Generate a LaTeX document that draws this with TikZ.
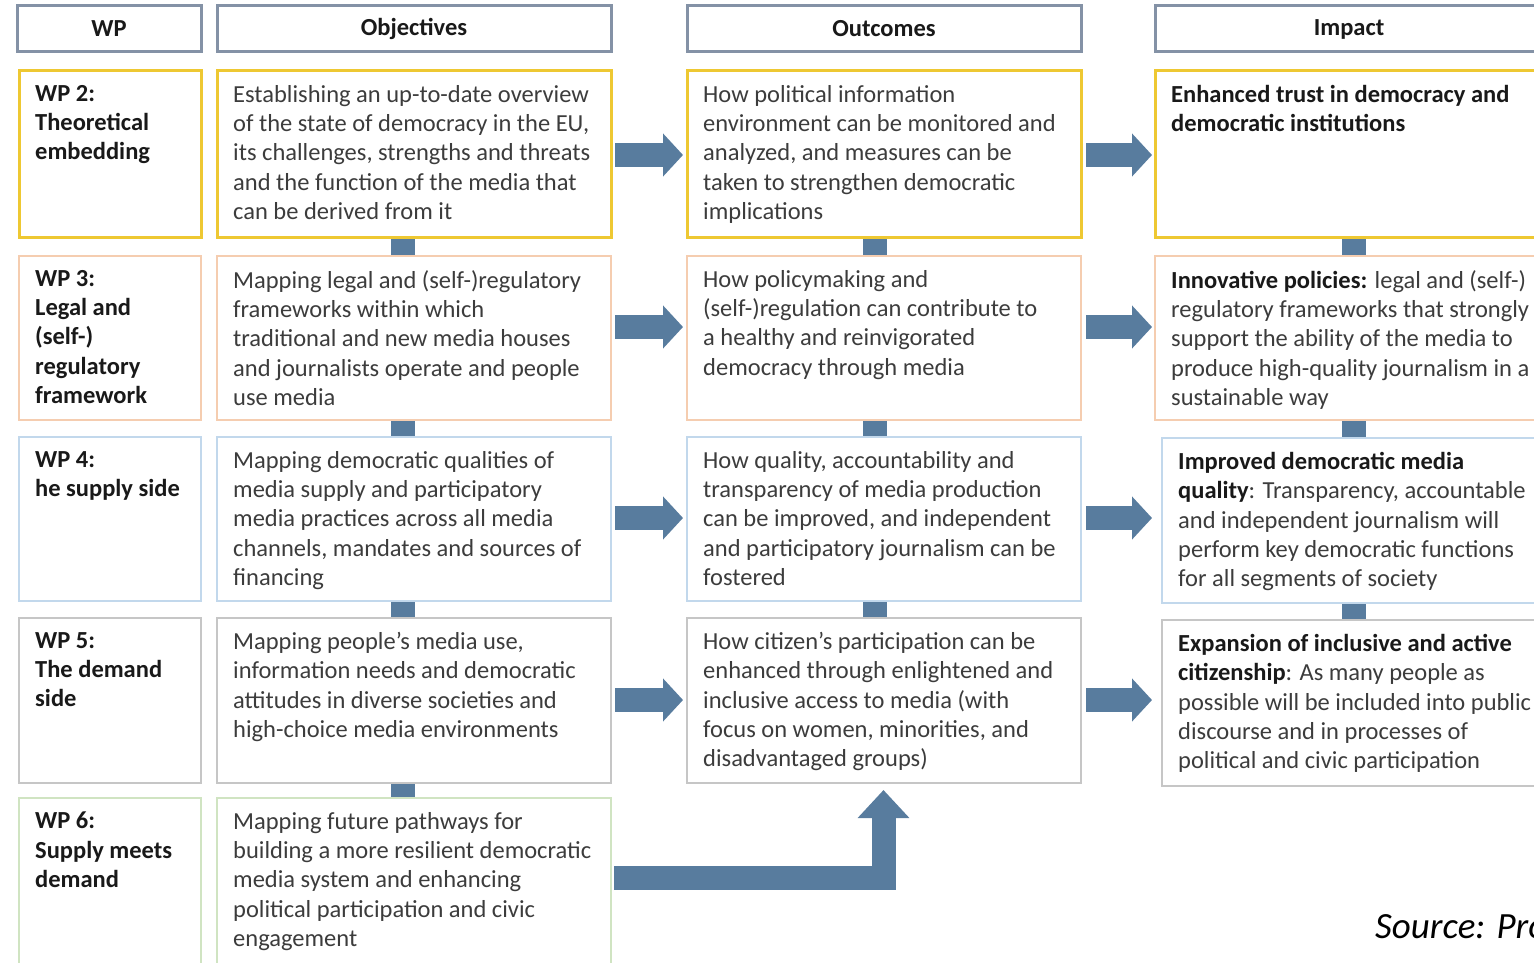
\documentclass[tikz,border=0pt]{standalone}
\usepackage{fontspec}
\setmainfont{Carlito}
\usetikzlibrary{arrows.meta,backgrounds}
\definecolor{hdrc}{RGB}{132,146,166}
\definecolor{yelc}{RGB}{238,200,50}
\definecolor{peac}{RGB}{245,205,176}
\definecolor{bluc}{RGB}{194,216,236}
\definecolor{grec}{RGB}{198,198,198}
\definecolor{grnc}{RGB}{208,228,194}
\definecolor{arrc}{RGB}{88,124,158}
\definecolor{txtc}{RGB}{60,60,60}
\definecolor{boldc}{RGB}{25,25,25}
\newcommand{\mkcell}[7]{%
  \node[box,#6,minimum width=#4-#2,minimum height=#5-#3] (#1) at (#2,#3) {};
  \node[txt] (#1t) at ([xshift=16pt,yshift=-14pt]#1.north west) {#7};
}
\newcommand{\bt}[1]{\textbf{\color{boldc}#1}}
\begin{document}
\begin{tikzpicture}[x=1pt,y=-1pt,
  box/.style={draw,fill=white,anchor=north west,inner sep=0pt,outer sep=0pt,line width=2.6pt},
  hdr/.style={box,draw=hdrc,line width=3pt,font=\fontsize{24.5}{28}\selectfont\bfseries,text=boldc},
  yb/.style={draw=yelc,line width=3pt},
  pb/.style={draw=peac},
  bb/.style={draw=bluc},
  gb/.style={draw=grec},
  nb/.style={draw=grnc},
  txt/.style={anchor=north west,align=left,inner sep=0pt,font=\fontsize{24.5}{29.3}\selectfont,text=txtc},
  conn/.style={fill=arrc},
  arr/.style={draw=arrc,line width=24pt,-{Triangle[length=20pt,width=42pt]}},
]
\useasboundingbox (0,0) rectangle (1534,963);
\clip (0,0) rectangle (1534,963);
% header
\node[hdr,minimum width=184,minimum height=46] (hw) at (17,6) {WP};
\node[hdr,minimum width=394,minimum height=46] (ho) at (217,6) {Objectives};
\node[hdr,minimum width=394,minimum height=46] (hu) at (687,6) {Outcomes};
\node[hdr,minimum width=390,minimum height=46] (hm) at (1155,6) {\hspace*{-2pt}Impact};
% row 1
\mkcell{w1}{19}{71}{201}{237}{yb}{\bt{WP 2:}\\\bt{Theoretical}\\\bt{embedding}}
\mkcell{o1}{217}{71}{611}{237}{yb}{Establishing an up-to-date overview\\of the state of democracy in the EU,\\its challenges, strengths and threats\\and the function of the media that\\can be derived from it}
\mkcell{u1}{687}{71}{1081}{237}{yb}{How political information\\environment can be monitored and\\analyzed, and measures can be\\taken to strengthen democratic\\implications}
\mkcell{m1}{1155}{71}{1545}{237}{yb}{\bt{Enhanced trust in democracy and}\\\bt{democratic institutions}}
% row 2
\mkcell{w2}{19}{256}{201}{420}{pb}{\bt{WP 3:}\\\bt{Legal and}\\\bt{(self-)}\\\bt{regulatory}\\\bt{framework}}
\mkcell{o2}{217}{256}{611}{420}{pb}{Mapping legal and (self-)regulatory\\frameworks within which\\traditional and new media houses\\and journalists operate and people\\use media}
\mkcell{u2}{687}{256}{1081}{420}{pb}{How policymaking and\\(self-)regulation can contribute to\\a healthy and reinvigorated\\democracy through media}
\mkcell{m2}{1155}{256}{1545}{420}{pb}{\bt{Innovative policies:} legal and (self-)\\regulatory frameworks that strongly\\support the ability of the media to\\produce high-quality journalism in a\\sustainable way}
% row 3
\mkcell{w3}{19}{437}{201}{601}{bb}{\bt{WP 4:}\\\bt{he supply side}}
\mkcell{o3}{217}{437}{611}{601}{bb}{Mapping democratic qualities of\\media supply and participatory\\media practices across all media\\channels, mandates and sources of\\financing}
\mkcell{u3}{687}{437}{1081}{601}{bb}{How quality, accountability and\\transparency of media production\\can be improved, and independent\\and participatory journalism can be\\fostered}
\mkcell{m3}{1162}{438}{1545}{603}{bb}{\bt{Improved democratic media}\\\bt{quality}: Transparency, accountable\\and independent journalism will\\perform key democratic functions\\for all segments of society}
% row 4
\mkcell{w4}{19}{618}{201}{783}{gb}{\bt{WP 5:}\\\bt{The demand}\\\bt{side}}
\mkcell{o4}{217}{618}{611}{783}{gb}{Mapping people’s media use,\\information needs and democratic\\attitudes in diverse societies and\\high-choice media environments}
\mkcell{u4}{687}{618}{1081}{783}{gb}{How citizen’s participation can be\\enhanced through enlightened and\\inclusive access to media (with\\focus on women, minorities, and\\disadvantaged groups)}
\mkcell{m4}{1162}{620}{1545}{786}{gb}{\bt{Expansion of inclusive and active}\\\bt{citizenship}: As many people as\\possible will be included into public\\discourse and in processes of\\political and civic participation}
% row 5
\mkcell{w5}{19}{798}{201}{990}{nb}{\bt{WP 6:}\\\bt{Supply meets}\\\bt{demand}}
\mkcell{o5}{217}{798}{611}{990}{nb}{Mapping future pathways for\\building a more resilient democratic\\media system and enhancing\\political participation and civic\\engagement}
% vertical connectors
\coordinate (oL) at (391,0); \coordinate (oR) at (415,0);
\coordinate (uL) at (863,0); \coordinate (uR) at (887,0);
\coordinate (mL) at (1342,0); \coordinate (mR) at (1366,0);
\begin{scope}[on background layer]
\fill[white] (0,0) rectangle (1534,963);
\fill[conn] (o1.south -| oL) rectangle (o2.north -| oR);
\fill[conn] (o2.south -| oL) rectangle (o3.north -| oR);
\fill[conn] (o3.south -| oL) rectangle (o4.north -| oR);
\fill[conn] (o4.south -| oL) rectangle (o5.north -| oR);
\fill[conn] (u1.south -| uL) rectangle (u2.north -| uR);
\fill[conn] (u2.south -| uL) rectangle (u3.north -| uR);
\fill[conn] (u3.south -| uL) rectangle (u4.north -| uR);
\fill[conn] (m1.south -| mL) rectangle (m2.north -| mR);
\fill[conn] (m2.south -| mL) rectangle (m3.north -| mR);
\fill[conn] (m3.south -| mL) rectangle (m4.north -| mR);
\end{scope}
% horizontal arrows
\coordinate (r1) at (0,155); \coordinate (r2) at (0,327);
\coordinate (r3) at (0,518); \coordinate (r4) at (0,700);
\draw[arr,shorten <=4pt,shorten >=4pt] (o1.east |- r1) -- (u1.west |- r1);
\draw[arr,shorten <=4pt,shorten >=4pt] (o2.east |- r2) -- (u2.west |- r2);
\draw[arr,shorten <=4pt,shorten >=4pt] (o3.east |- r3) -- (u3.west |- r3);
\draw[arr,shorten <=4pt,shorten >=4pt] (o4.east |- r4) -- (u4.west |- r4);
\draw[arr,shorten <=5pt,shorten >=3pt] (u1.east |- r1) -- (m1.west |- r1);
\draw[arr,shorten <=5pt,shorten >=3pt] (u2.east |- r2) -- (m2.west |- r2);
\draw[arr,shorten <=5pt,shorten >=10pt] (u3.east |- r3) -- (m3.west |- r3);
\draw[arr,shorten <=5pt,shorten >=10pt] (u4.east |- r4) -- (m4.west |- r4);
% bent arrow
\coordinate (b1) at (0,878); \coordinate (b2) at (883.5,0);
\draw[arr,line join=miter,shorten <=3pt,shorten >=7pt,-{Triangle[length=28pt,width=50pt]}] (o5.east |- b1) -| (u4.south -| b2);
% source
\node[anchor=base west,inner sep=0pt,font=\fontsize{37}{44}\selectfont\itshape,text=black] (src) at (1375,938) {Source: Pro};
\end{tikzpicture}
\end{document}
